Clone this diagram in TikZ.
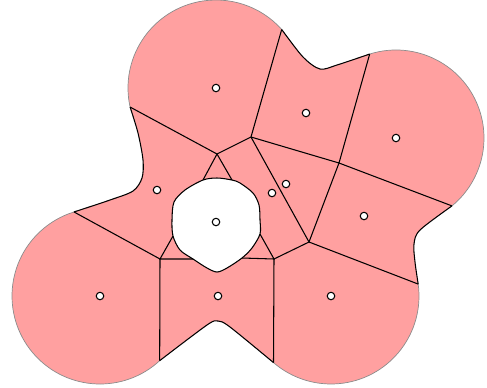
\documentclass[tikz,border=0pt]{standalone}
\usepackage{tikz}
\usetikzlibrary{positioning}
\definecolor{cellpink}{RGB}{255,160,160}

\tikzset{
  site/.style={circle, draw=black, fill=white, line width=0.6pt, inner sep=0pt, minimum size=0.15cm},
  vedge/.style={black, line width=0.6pt},
  rim/.style={gray!90, line width=0.4pt},
  seam/.style={black, line width=0.6pt}
}

\begin{document}
\begin{tikzpicture}[x=0.02cm, y=-0.02cm]
		\useasboundingbox (0,0) rectangle (487,387);
		% Ball radius
		\def\rB{88}
		% Sites
		\coordinate (pA) at (216,88);
		\coordinate (pC) at (396,138);
		\coordinate (pI) at (100,296);
		\coordinate (pK) at (331,296);
		% Ends of the big arcs
		\path (pA) ++(167.5:\rB) coordinate (b1);
		\path (pA) ++(318.3:\rB) coordinate (b2);
		\path (pC) ++(252.6:\rB) coordinate (b3);
		\path (pC) ++(50.5:\rB) coordinate (b4);
		\path (pK) ++(-7.8:\rB) coordinate (b5);
		\path (pK) ++(130.8:\rB) coordinate (b6);
		\path (pI) ++(47.3:\rB) coordinate (b7);
		\path (pI) ++(252.8:\rB) coordinate (b8);
		% Hole corners
		\coordinate (h1) at (203,180);
		\coordinate (h2) at (232,180);
		\coordinate (h3) at (260,234);
		\coordinate (h4) at (242,258);
		\coordinate (h5) at (193,259);
		\coordinate (h6) at (173,236);
		% Voronoi vertices
		\coordinate (v1) at (217,154);
		\coordinate (v2) at (251,137);
		\coordinate (v3) at (339,163);
		\coordinate (v4) at (309,242);
		\coordinate (v5) at (274,259);
		\coordinate (v6) at (160,259);
		% Union of balls with the hole
		\fill[cellpink, even odd rule] (b1) arc[start angle=167.5, end angle=318.3, radius=\rB]
			-- plot[smooth] coordinates {(b2) (303,57) (320,69) (337,65) (b3)}
			arc[start angle=252.6, end angle=410.5, radius=\rB]
			-- plot[smooth] coordinates {(b4) (420,230) (414,244) (415,262) (b5)}
			arc[start angle=-7.8, end angle=130.8, radius=\rB]
			-- plot[smooth] coordinates {(b6) (230,327) (218,321) (207,325) (b7)}
			arc[start angle=47.3, end angle=252.8, radius=\rB]
			-- plot[smooth] coordinates {(b8) (110,200) (133,191) (142,178) (143,160) (138,133) (b1)}
			-- cycle
			(h1) plot[smooth cycle] coordinates {(h1) (217,178) (h2) (240,183) (253,193) (259,205) (260,220) (h3) (252,248) (h4) (227,268) (217,272) (207,268) (h5) (180,250) (h6) (172,220) (174,202) (185,190)};
		% Rim arcs
		\draw[rim] (b1) arc[start angle=167.5, end angle=318.3, radius=\rB];
		\draw[rim] (b3) arc[start angle=252.6, end angle=410.5, radius=\rB];
		\draw[rim] (b5) arc[start angle=-7.8, end angle=130.8, radius=\rB];
		\draw[rim] (b7) arc[start angle=47.3, end angle=252.8, radius=\rB];
		% Blended parts of the boundary
		\draw[seam] plot[smooth] coordinates {(b2) (303,57) (320,69) (337,65) (b3)};
		\draw[seam] plot[smooth] coordinates {(b4) (420,230) (414,244) (415,262) (b5)};
		\draw[seam] plot[smooth] coordinates {(b6) (230,327) (218,321) (207,325) (b7)};
		\draw[seam] plot[smooth] coordinates {(b8) (110,200) (133,191) (142,178) (143,160) (138,133) (b1)};
		\draw[seam] plot[smooth cycle] coordinates {(h1) (217,178) (h2) (240,183) (253,193) (259,205) (260,220) (h3) (252,248) (h4) (227,268) (217,272) (207,268) (h5) (180,250) (h6) (172,220) (174,202) (185,190)};
		% Voronoi edges
		\draw[vedge] (b1) -- (v1) -- (v2) -- (b2);
		\draw[vedge] (h1) -- (v1) -- (h2);
		\draw[vedge] (v2) -- (v3) -- (b3);
		\draw[vedge] (v3) -- (b4);
		\draw[vedge] (v2) -- (v4) -- (v3);
		\draw[vedge] (b5) -- (v4) -- (v5) -- (b6);
		\draw[vedge] (h3) -- (v5) -- (h4);
		\draw[vedge] (h5) -- (v6) -- (h6);
		\draw[vedge] (b8) -- (v6) -- (b7);
		% Site markers
		\node[site] (sA) at (pA) {};
		\node[site] (sB) at (306,113) {};
		\node[site] (sC) at (pC) {};
		\node[site] (sD) at (157,190) {};
		\node[site] (sE) at (272,193) {};
		\node[site] (sF) at (286,184) {};
		\node[site] (sG) at (216,222) {};
		\node[site] (sH) at (364,216) {};
		\node[site] (sI) at (pI) {};
		\node[site] (sJ) at (218,296) {};
		\node[site] (sK) at (pK) {};
	\end{tikzpicture}
\end{document}
